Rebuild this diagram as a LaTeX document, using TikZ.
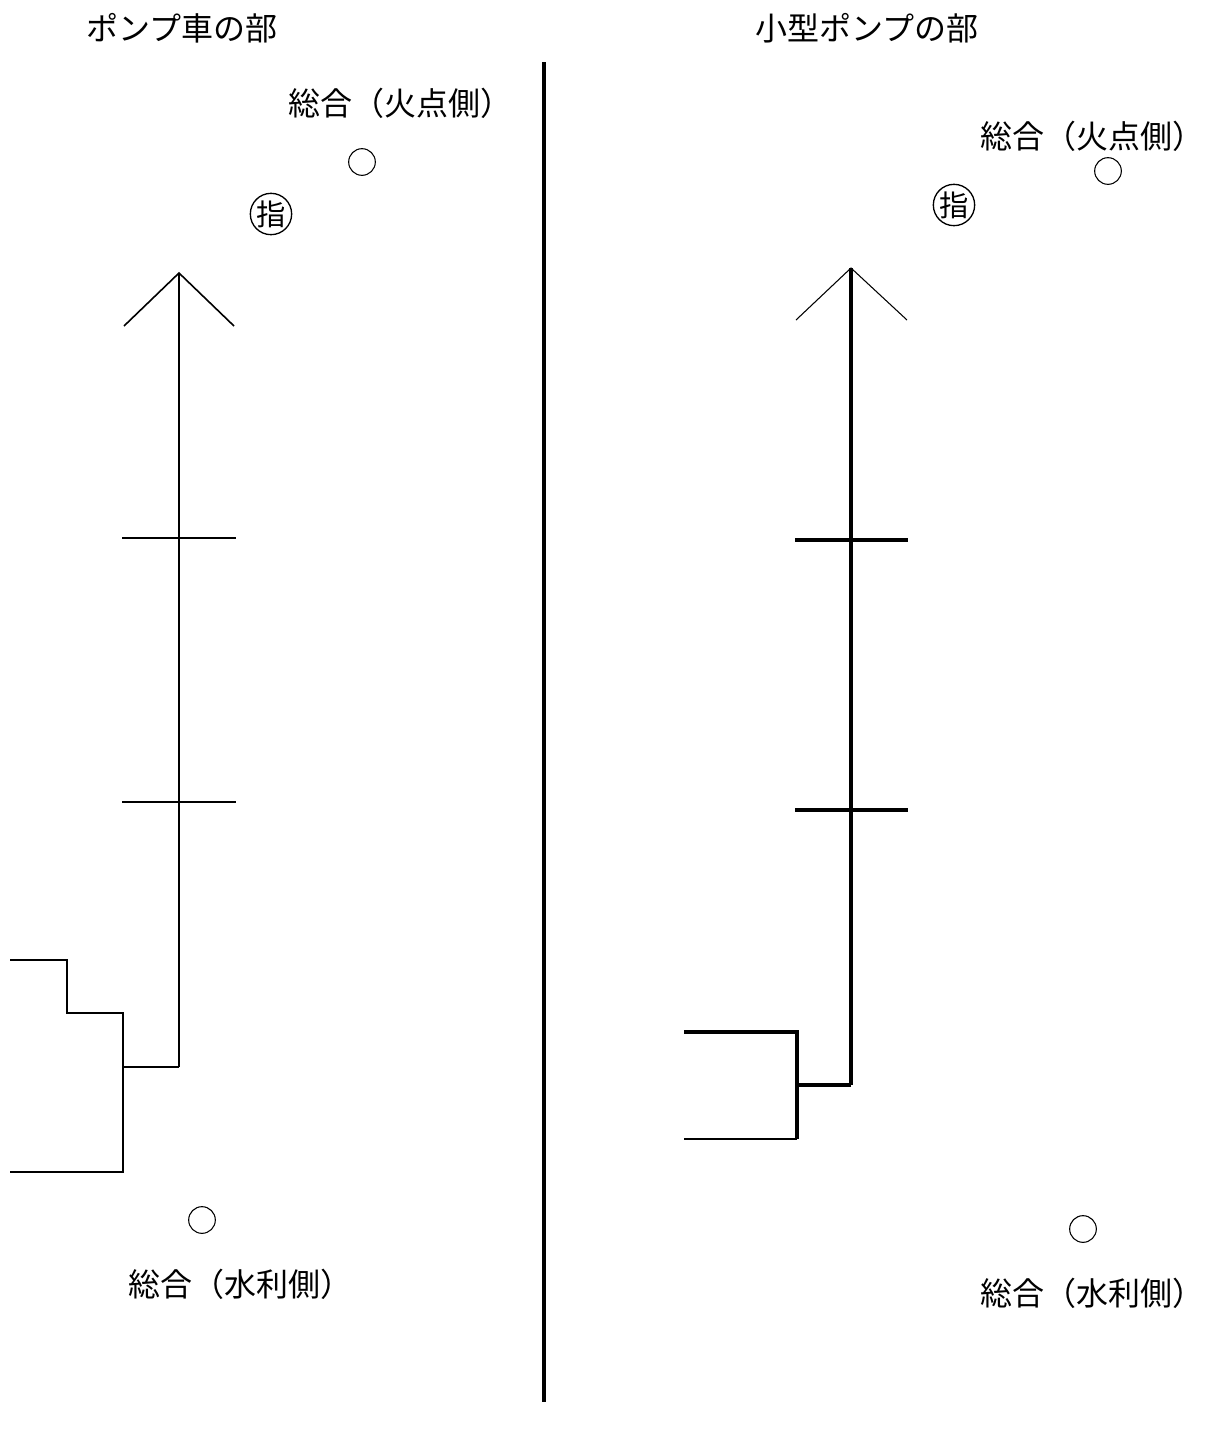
\documentclass[tikz,border=0pt]{standalone}
\usepackage{fontspec}
\setmainfont{Noto Sans CJK JP}
\begin{document}
\begin{tikzpicture}[x=0.75pt,y=-0.75pt,
  lbl/.style={font=\fontsize{24}{28}\selectfont, inner sep=0pt},
  ring/.style={circle, draw, line width=0.8pt, minimum size=20pt, inner sep=0pt},
  shiki/.style={circle, draw, line width=1pt, minimum size=31pt, inner sep=0pt, font=\fontsize{22}{24}\selectfont},
  pipeL/.style={line width=1.2pt},
  pipeR/.style={line width=2.5pt},
  headline/.style={line width=0.8pt},
  divider/.style={line width=2.4pt}]
\useasboundingbox (0,0) rectangle (1205,1429);

% titles
\node[lbl] (t1) at (182,28) {ポンプ車の部};
\node[lbl] (t2) at (867,28) {小型ポンプの部};

% divider
\coordinate (d1) at (544,62);
\coordinate (d2) at (544,1402);
\draw[divider] (d1) -- (d2);

% ---------- left ----------
\node[lbl] (lf) at (400,103) {総合（火点側）};
\node[ring] (lfc) at (362,162) {};
\node[shiki] (ls) at (271,214) {指};
\node[ring] (lwc) at (202,1220) {};
\node[lbl] (lw) at (240,1284) {総合（水利側）};

\coordinate (la) at (179,273);
\coordinate (lal) at (124,326);
\coordinate (lar) at (234,326);
\coordinate (lb) at (179,1067);
\draw[pipeL] (la) -- (lb);
\draw[pipeL] (lal) -- (la) -- (lar);
\draw[pipeL] (122,538) -- (236,538);
\draw[pipeL] (122,802) -- (236,802);
\coordinate (lj) at (123,1067);
\draw[pipeL] (lb) -- (lj);
\draw[pipeL] (10,960) -- (67,960) -- (67,1013) -- (123,1013) -- (123,1172) -- (10,1172);

% ---------- right ----------
\node[lbl] (rf) at (1092,136) {総合（火点側）};
\node[ring] (rfc) at (1108,171) {};
\node[shiki] (rs) at (954,205) {指};
\node[ring] (rwc) at (1083,1229) {};
\node[lbl] (rw) at (1092,1293) {総合（水利側）};

\coordinate (ra) at (851,268);
\coordinate (ral) at (796,320);
\coordinate (rar) at (907,320);
\coordinate (rb) at (851,1085);
\draw[pipeR] (ra) -- (rb);
\draw[headline] (ral) -- (ra) -- (rar);
\draw[pipeR] (795,540) -- (908,540);
\draw[pipeR] (795,810) -- (908,810);
\coordinate (rj) at (797,1085);
\draw[pipeR] (rb) -- (rj);
\draw[pipeR] (684,1032) -- (797,1032) -- (797,1139);
\draw[line width=0.9pt] (797,1139) -- (684,1139);
\end{tikzpicture}
\end{document}
